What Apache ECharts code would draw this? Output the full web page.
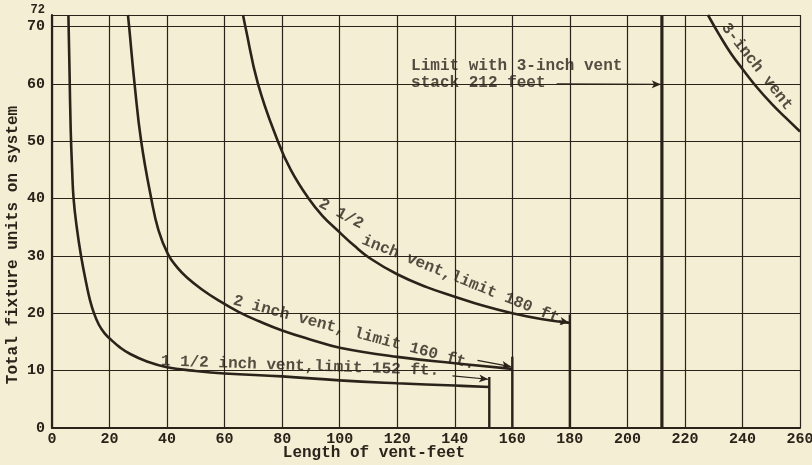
<!DOCTYPE html>
<html>
<head>
<meta charset="utf-8">
<script src="https://cdn.jsdelivr.net/npm/echarts@6.0.0/dist/echarts.min.js"></script>
<style>
  html, body { margin: 0; padding: 0; background: #f3eed4; }
  #chart { width: 812px; height: 465px; }
</style>
</head>
<body>
<div id="chart"></div>
<script>
// Vent curves: [length of vent (ft), total fixture units]
const vent1Half = [[5.7,72],[6.1,62],[6.5,52],[7.0,45],[7.5,40],[8.6,35],[10.1,30],[12,25],[13.2,22.3],[14.6,20],[16.3,18],[18.3,16.5],[20.5,15.4],[23.5,14.1],[27.2,12.9],[33,11.6],[40,10.6],[49,10],[60,9.5],[80,9.0],[100,8.3],[120,7.8],[140,7.4],[152,7.15]];
const vent2 = [[26.4,72],[26.8,70],[28.7,60],[31,50],[34.5,40],[37,34.5],[40.3,30.3],[43.5,28],[47,26.2],[52,24.2],[58,22.2],[65,20.2],[72,18.6],[80,17.0],[90,15.4],[100,14.0],[120,12.4],[140,11.3],[160,10.3]];
const vent2Half = [[66.4,72],[67.2,70],[71.6,60],[78.5,50],[83,45],[89.2,40],[94,37],[100,34.1],[105,31.8],[110.5,29.6],[120,26.8],[130,24.6],[140,22.9],[150,21.3],[160,20.0],[170,19.0],[180,18.3]];
const vent3 = [[228,72],[232,68.5],[236,65.3],[240,62.6],[245,59.4],[250,56.6],[255,54.1],[260,51.7]];

// Length limits (ft) and how high each limit bar rises (fixture units)
const limitLengths = [152, 160, 180, 212];
const limitTops = [8.9, 12.4, 19.8, 72];

// Axis ranges
const lengthMax = 260, lengthStep = 20;
const unitsMax = 72, unitsStep = 10;

// Callout text
const notes = [
  { text: '2 1/2', at: [100.5, 37.3], rotate: -28 },
  { text: 'inch vent,limit 180 ft.', at: [143.5, 25.6], rotate: -22 },
  { text: '2 inch vent, limit 160 ft.', at: [105, 16.6], rotate: -15 },
  { text: '1 1/2 inch vent,limit 152 ft.', at: [86.2, 10.8], rotate: -2 },
  { text: '3-inch vent', at: [245, 63], rotate: -52 }
];
const stackNote = { text: 'Limit with 3-inch vent\nstack 212 feet', at: [125, 61.5] };

// Arrows from callouts to the limit bars: [from, to]
const arrows = [
  [[139.2, 9.1], [151.6, 8.5]],
  [[147.9, 11.8], [159.5, 10.7]],
  [[176.2, 18.7], [179.7, 18.4]],
  [[175.4, 60], [211.6, 59.9]]
];

const INK = '#2a231a';
const FONT = '"Liberation Mono", "DejaVu Sans Mono", monospace';

const chart = echarts.init(document.getElementById('chart'), null, { renderer: 'canvas' });

function curve(name, data) {
  return {
    name, type: 'line', data,
    symbol: 'none', smooth: 0.45,
    lineStyle: { color: INK, width: 2.6 },
    clip: true, silent: true, z: 4
  };
}

const limitSeries = limitLengths.map((x, i) => ({
  name: 'limit ' + x,
  type: 'line',
  data: [[x, 0], [x, limitTops[i]]],
  symbol: 'none',
  lineStyle: { color: INK, width: i === 3 ? 3.2 : 2.4 },
  silent: true, z: 4
}));

const labelStyle = { color: INK, fontFamily: FONT, fontSize: 16, fontWeight: 'bold' };

const noteSeries = {
  name: 'notes', type: 'scatter',
  symbolSize: 1, itemStyle: { color: 'transparent' }, silent: true, z: 6,
  data: notes.map(n => ({
    value: n.at,
    label: Object.assign({ show: true, position: 'inside', formatter: n.text, rotate: n.rotate }, labelStyle)
  })).concat([{
    value: stackNote.at,
    label: Object.assign({
      show: true, position: [0, 0], align: 'left', verticalAlign: 'middle',
      formatter: stackNote.text, lineHeight: 17
    }, labelStyle)
  }])
};

const arrowSeries = {
  name: 'arrows', type: 'line', data: [], silent: true, z: 5,
  markLine: {
    silent: true, animation: false,
    symbol: ['none', 'arrow'], symbolSize: [6, 9],
    label: { show: false },
    lineStyle: { color: INK, width: 1.2, type: 'solid' },
    data: arrows.map(a => [{ coord: a[0] }, { coord: a[1] }])
  }
};

chart.setOption({
  backgroundColor: '#f3eed4',
  animation: false,
  grid: { left: 52, right: 12, top: 15, bottom: 37, containLabel: false, outerBoundsMode: 'none' },
  xAxis: {
    type: 'value', min: 0, max: lengthMax, interval: lengthStep,
    name: 'Length of vent-feet', nameLocation: 'middle', nameGap: 17, nameMoveOverlap: false,
    nameTextStyle: { color: INK, fontFamily: FONT, fontSize: 16, fontWeight: 'bold', padding: [0, 104, 0, 0] },
    axisLine: { show: true, onZero: false, lineStyle: { color: INK, width: 2.2 } },
    axisTick: { show: false },
    axisLabel: { color: INK, fontFamily: FONT, fontSize: 15, fontWeight: 'bold', margin: 4, showMaxLabel: true, showMinLabel: true },
    splitLine: { show: true, lineStyle: { color: INK, width: 1.2 } }
  },
  yAxis: {
    type: 'value', min: 0, max: unitsMax, interval: unitsStep,
    name: 'Total fixture units on system', nameLocation: 'middle', nameRotate: 90, nameGap: 31, nameMoveOverlap: false,
    nameTextStyle: { color: INK, fontFamily: FONT, fontSize: 16, fontWeight: 'bold', padding: [0, 47, 0, 0] },
    axisLine: { show: true, onZero: false, lineStyle: { color: INK, width: 2.2 } },
    axisTick: { show: false },
    axisLabel: {
      color: INK, fontFamily: FONT, fontSize: 15, fontWeight: 'bold', margin: 7,
      showMaxLabel: true, showMinLabel: true,
      formatter: v => v === unitsMax ? '{s|' + v + '}' : String(v),
      rich: { s: { fontSize: 12, fontWeight: 'bold', fontFamily: FONT, color: INK, padding: [0, 0, 10, 0] } }
    },
    splitLine: { show: true, lineStyle: { color: INK, width: 1.2 } }
  },
  series: [
    curve('1 1/2 inch vent', vent1Half),
    curve('2 inch vent', vent2),
    curve('2 1/2 inch vent', vent2Half),
    curve('3-inch vent', vent3),
    ...limitSeries,
    arrowSeries,
    noteSeries
  ]
});
</script>
</body>
</html>
